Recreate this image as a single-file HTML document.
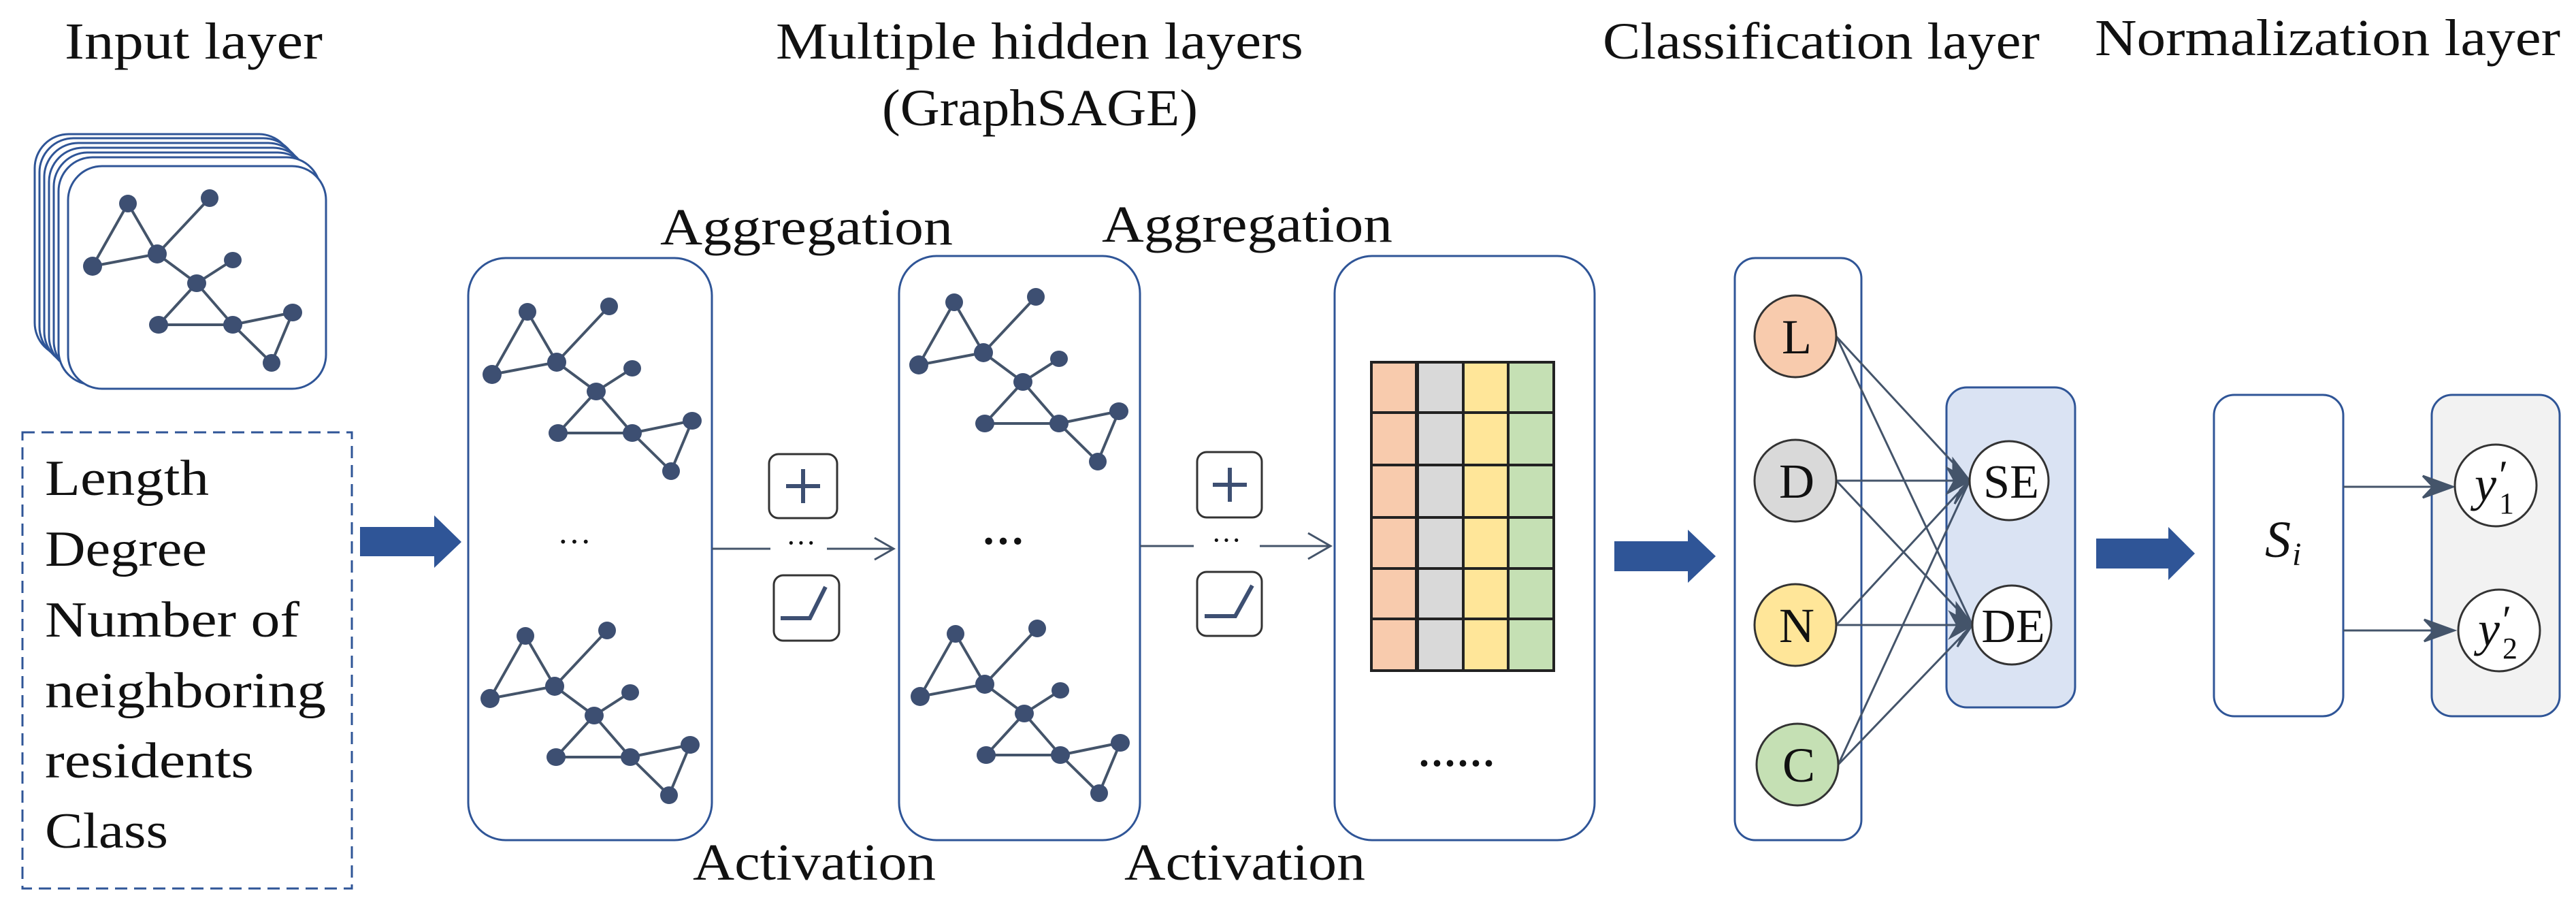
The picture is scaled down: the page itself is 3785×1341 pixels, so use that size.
<!DOCTYPE html>
<html><head><meta charset="utf-8"><style>
html,body{margin:0;padding:0;background:#fff;}
svg{display:block;}
text{font-family:"Liberation Serif",serif;fill:#111;}
</style></head><body>
<svg width="3785" height="1341" viewBox="0 0 3785 1341" xmlns="http://www.w3.org/2000/svg">
<defs>
<g id="gr" stroke="#44546A" stroke-width="4" fill="#3D4F72">
<line x1="188" y1="299" x2="136" y2="391"/><line x1="188" y1="299" x2="231" y2="373"/>
<line x1="136" y1="391" x2="231" y2="373"/><line x1="308" y1="291" x2="231" y2="373"/>
<line x1="231" y1="373" x2="289" y2="416"/><line x1="289" y1="416" x2="342" y2="382"/>
<line x1="289" y1="416" x2="233" y2="477"/><line x1="289" y1="416" x2="342" y2="477"/>
<line x1="233" y1="477" x2="342" y2="477"/><line x1="342" y1="477" x2="430" y2="459"/>
<line x1="342" y1="477" x2="399" y2="533"/><line x1="430" y1="459" x2="399" y2="533"/>
<g stroke="none">
<ellipse cx="188" cy="299" rx="13" ry="13"/><ellipse cx="308" cy="291" rx="13" ry="13"/>
<ellipse cx="136" cy="391" rx="14" ry="14"/><ellipse cx="231" cy="373" rx="14" ry="14"/>
<ellipse cx="342" cy="382" rx="13" ry="12"/><ellipse cx="289" cy="416" rx="14" ry="13"/>
<ellipse cx="233" cy="477" rx="14" ry="13"/><ellipse cx="342" cy="477" rx="14" ry="13"/>
<ellipse cx="430" cy="459" rx="14" ry="13"/><ellipse cx="399" cy="533" rx="13" ry="13"/>
</g></g>
</defs>

<text x="95" y="86" font-size="76" textLength="379" lengthAdjust="spacingAndGlyphs">Input layer</text>
<text x="1140" y="86" font-size="76" textLength="775" lengthAdjust="spacingAndGlyphs">Multiple hidden layers</text>
<text x="1296" y="184" font-size="76" textLength="464" lengthAdjust="spacingAndGlyphs">(GraphSAGE)</text>
<text x="2355" y="86" font-size="76" textLength="642" lengthAdjust="spacingAndGlyphs">Classification layer</text>
<text x="3078" y="81" font-size="76" textLength="684" lengthAdjust="spacingAndGlyphs">Normalization layer</text>

<g fill="#fff" stroke="#2F5597" stroke-width="3">
<rect x="51" y="197" width="379" height="327" rx="50"/>
<rect x="58" y="203" width="379" height="327" rx="50"/>
<rect x="65" y="210" width="379" height="327" rx="50"/>
<rect x="72" y="217" width="379" height="327" rx="50"/>
<rect x="79" y="224" width="379" height="327" rx="50"/>
<rect x="86" y="231" width="385" height="334" rx="50"/>
<rect x="100" y="244" width="379" height="327" rx="50"/>
</g>
<use href="#gr"/>

<rect x="33" y="635" width="484" height="670" fill="none" stroke="#2F5597" stroke-width="3" stroke-dasharray="18,10"/>
<g font-size="74">
<text x="66" y="727" textLength="241" lengthAdjust="spacingAndGlyphs">Length</text>
<text x="66" y="831" textLength="238" lengthAdjust="spacingAndGlyphs">Degree</text>
<text x="66" y="935" textLength="374" lengthAdjust="spacingAndGlyphs">Number of</text>
<text x="66" y="1039" textLength="413" lengthAdjust="spacingAndGlyphs">neighboring</text>
<text x="66" y="1142" textLength="307" lengthAdjust="spacingAndGlyphs">residents</text>
<text x="66" y="1245" textLength="181" lengthAdjust="spacingAndGlyphs">Class</text>
</g>

<g fill="#2F5597">
<polygon points="529,774 638,774 638,757 678,796 638,834 638,817 529,817"/>
<polygon points="2372,795 2480,795 2480,778 2521,817 2480,856 2480,839 2372,839"/>
<polygon points="3080,791 3186,791 3186,774 3225,813 3186,852 3186,835 3080,835"/>
</g>

<g fill="#fff" stroke="#2F5597" stroke-width="3">
<rect x="688" y="379" width="358" height="855" rx="55"/>
<rect x="1321" y="376" width="354" height="858" rx="55"/>
<rect x="1961" y="376" width="382" height="858" rx="55"/>
</g>
<use href="#gr" transform="translate(587,159)"/>
<use href="#gr" transform="translate(584,635)"/>
<use href="#gr" transform="translate(1214,145)"/>
<use href="#gr" transform="translate(1216,632)"/>
<text x="844" y="812" font-size="50" text-anchor="middle">···</text>
<text x="1474" y="816" font-size="64" font-weight="bold" text-anchor="middle">···</text>

<text x="970" y="359" font-size="76" textLength="430" lengthAdjust="spacingAndGlyphs">Aggregation</text>
<text x="1619" y="355" font-size="76" textLength="427" lengthAdjust="spacingAndGlyphs">Aggregation</text>
<text x="1018" y="1292" font-size="76" textLength="357" lengthAdjust="spacingAndGlyphs">Activation</text>
<text x="1652" y="1292" font-size="76" textLength="354" lengthAdjust="spacingAndGlyphs">Activation</text>

<g stroke="#44546A" stroke-width="3" fill="none">
<line x1="1046" y1="806" x2="1132" y2="806"/>
<line x1="1215" y1="806" x2="1310" y2="806"/>
<polyline points="1285,790 1313,806 1285,822"/>
<line x1="1675" y1="802" x2="1754" y2="802"/>
<line x1="1851" y1="802" x2="1952" y2="802"/>
<polyline points="1922,783 1955,802 1922,821"/>
</g>
<text x="1177" y="812" font-size="44" text-anchor="middle">···</text>
<text x="1802" y="808" font-size="44" text-anchor="middle">···</text>
<g fill="#fff" stroke="#333" stroke-width="3">
<rect x="1130" y="667" width="100" height="94" rx="14"/>
<rect x="1137" y="845" width="96" height="96" rx="14"/>
<rect x="1759" y="664" width="95" height="96" rx="14"/>
<rect x="1759" y="840" width="95" height="94" rx="14"/>
</g>
<g stroke="#3D4F72" stroke-width="6" fill="none">
<line x1="1155" y1="714" x2="1205" y2="714"/><line x1="1180" y1="689" x2="1180" y2="739"/>
<polyline points="1147,908 1190,908 1213,862"/>
<line x1="1782" y1="712" x2="1832" y2="712"/><line x1="1807" y1="687" x2="1807" y2="737"/>
<polyline points="1770,905 1815,905 1840,860"/>
</g>

<g stroke="#222" stroke-width="4">
<rect x="2015" y="532" width="67" height="453" fill="#F8CBAD"/>
<rect x="2082" y="532" width="68" height="453" fill="#D9D9D9"/>
<rect x="2150" y="532" width="66" height="453" fill="#FFE699"/>
<rect x="2216" y="532" width="67" height="453" fill="#C5E0B4"/>
<line x1="2015" y1="606" x2="2283" y2="606"/>
<line x1="2015" y1="683" x2="2283" y2="683"/>
<line x1="2015" y1="760" x2="2283" y2="760"/>
<line x1="2015" y1="835" x2="2283" y2="835"/>
<line x1="2015" y1="909" x2="2283" y2="909"/>
<line x1="2082" y1="532" x2="2082" y2="985" stroke-width="6"/>
</g>
<text x="2142" y="1125" font-size="60" font-weight="bold" text-anchor="middle" letter-spacing="4">......</text>

<rect x="2549" y="379" width="186" height="855" rx="30" fill="#fff" stroke="#2F5597" stroke-width="3"/>
<rect x="2860" y="569" width="189" height="470" rx="30" fill="#DAE3F3" stroke="#2F5597" stroke-width="3"/>
<g stroke="#44546A" stroke-width="3" fill="#44546A">
<line x1="2698" y1="494" x2="2894" y2="706"/><line x1="2698" y1="494" x2="2898" y2="918"/>
<line x1="2698" y1="706" x2="2894" y2="706"/><line x1="2698" y1="706" x2="2898" y2="918"/>
<line x1="2698" y1="918" x2="2894" y2="706"/><line x1="2698" y1="918" x2="2898" y2="918"/>
<line x1="2701" y1="1123" x2="2894" y2="706"/><line x1="2701" y1="1123" x2="2898" y2="918"/>
<polygon points="2894,706 2862,688 2872,706 2862,724"/>
<polygon points="2898,918 2866,900 2876,918 2866,936"/>
<polygon points="2894,706 2870,675 2870,700"/>
<polygon points="2898,918 2875,887 2875,912"/>
<polygon points="2894,706 2872,740 2880,720"/>
<polygon points="2898,918 2876,950 2884,932"/>
</g>
<g stroke="#333" stroke-width="3">
<circle cx="2638" cy="494" r="60" fill="#F8CBAD"/>
<circle cx="2638" cy="706" r="60" fill="#D9D9D9"/>
<circle cx="2638" cy="918" r="60" fill="#FFE699"/>
<circle cx="2641" cy="1123" r="60" fill="#C5E0B4"/>
<circle cx="2952" cy="706" r="58" fill="#fff"/>
<circle cx="2956" cy="918" r="58" fill="#fff"/>
</g>
<g font-size="72" text-anchor="middle">
<text x="2640" y="519">L</text>
<text x="2640" y="731">D</text>
<text x="2640" y="943">N</text>
<text x="2643" y="1148">C</text>
<text x="2955" y="731" font-size="70">SE</text>
<text x="2958" y="943" font-size="70">DE</text>
</g>

<rect x="3253" y="580" width="190" height="472" rx="30" fill="#fff" stroke="#2F5597" stroke-width="3"/>
<rect x="3573" y="580" width="188" height="472" rx="30" fill="#F2F2F2" stroke="#2F5597" stroke-width="3"/>
<g stroke="#44546A" stroke-width="3" fill="#44546A">
<line x1="3443" y1="715" x2="3600" y2="715"/>
<line x1="3443" y1="926" x2="3600" y2="926"/>
<polygon points="3604,715 3560,699 3575,715 3560,731"/>
<polygon points="3606,926 3562,910 3577,926 3562,942"/>
</g>
<circle cx="3667" cy="713" r="60" fill="#fff" stroke="#333" stroke-width="3"/>
<circle cx="3672" cy="926" r="60" fill="#fff" stroke="#333" stroke-width="3"/>
<text x="3328" y="818" font-size="76" font-style="italic">S</text>
<text x="3368" y="830" font-size="48" font-style="italic">i</text>
<text x="3636" y="735" font-size="72" font-style="italic">y</text>
<text x="3672" y="718" font-size="60">′</text>
<text x="3672" y="754" font-size="44">1</text>
<text x="3641" y="948" font-size="72" font-style="italic">y</text>
<text x="3677" y="931" font-size="60">′</text>
<text x="3677" y="967" font-size="44">2</text>
</svg>
</body></html>
